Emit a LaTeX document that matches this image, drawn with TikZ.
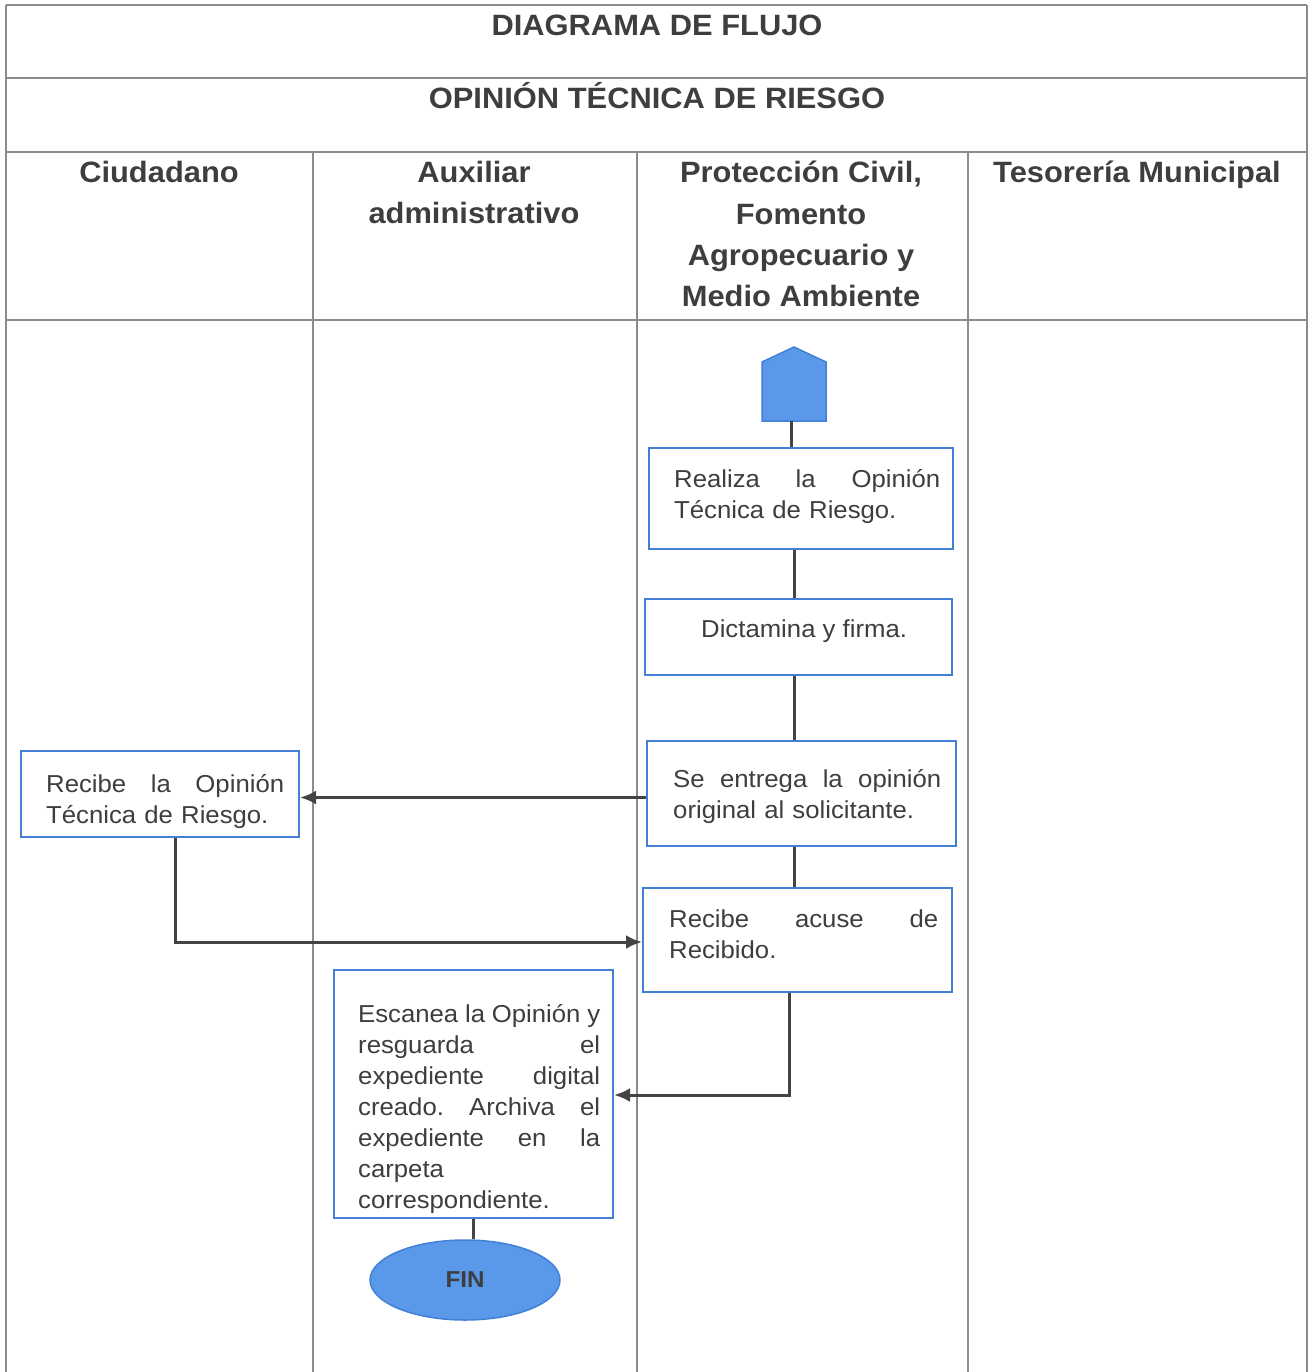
\documentclass[tikz,border=0pt]{standalone}
\usepackage{fontspec}
\setmainfont[FakeStretch=1.05]{Liberation Sans}
\usetikzlibrary{arrows.meta,shapes.geometric}

\definecolor{ink}{RGB}{62,62,62}
\definecolor{rulegray}{RGB}{140,140,140}
\definecolor{frameblue}{RGB}{66,128,214}
\definecolor{fillblue}{RGB}{90,152,234}
\definecolor{linkgray}{RGB}{68,68,68}

% a justified line of a given width: the words are spread over the full width
\newcommand{\spreadline}[2]{\noindent\hbox to #1{#2}\par}

\begin{document}
\begin{tikzpicture}[x=1pt,y=-1pt,
  gridline/.style={draw=rulegray,line width=1.2pt},
  title/.style={font=\fontsize{29.4}{34}\selectfont\bfseries,text=ink,inner sep=0pt,anchor=base},
  lane/.style={font=\fontsize{29.4}{41.3}\selectfont\bfseries,text=ink,align=center,anchor=north,inner sep=0pt},
  stepbox/.style={draw=frameblue,line width=2pt,fill=white,rectangle,inner sep=0pt},
  steptext/.style={text=ink,font=\fontsize{24.5}{31}\selectfont,inner sep=0pt,anchor=base west,align=left},
  link/.style={draw=linkgray,line width=3pt},
  arr/.style={link,-{Latex[length=16pt,width=14pt]}},
]
\useasboundingbox (0,0) rectangle (1309,1372);

% table frame and swimlanes
\draw[gridline] (6,5) -- (1307,5);
\draw[gridline] (6,78) -- (1307,78);
\draw[gridline] (6,152) -- (1307,152);
\draw[gridline] (6,320) -- (1307,320);
\draw[gridline] (6,5) -- (6,1372);
\draw[gridline] (1307,5) -- (1307,1372);
\foreach \x in {313,637,968} \draw[gridline] (\x,152) -- (\x,1372);

% titles
\node[title] (t1) at (657,35.5) {DIAGRAMA DE FLUJO};
\node[title] (t2) at (657,108.5) {OPINIÓN TÉCNICA DE RIESGO};

% lane headers
\node[lane] (h1) at (159,161) {Ciudadano};
\node[lane] (h2) at (474,161) {Auxiliar\\administrativo};
\node[lane] (h3) at (801,161) {Protección Civil,\\Fomento\\Agropecuario y\\Medio Ambiente};
\node[lane] (h4) at (1137,161) {Tesorería Municipal};

% start connector
\draw[draw=frameblue,fill=fillblue,line width=1.5pt]
  (762,362) -- (794,347) -- (826,362) -- (826,421) -- (762,421) -- cycle;
\coordinate (start) at (791,421);

% process boxes
\node[stepbox,minimum width=304pt,minimum height=101pt] (b1) at (801,498.5) {};
\node[stepbox,minimum width=307pt,minimum height=76pt] (b2) at (798.5,637) {};
\node[stepbox,minimum width=309pt,minimum height=105pt] (b3) at (801.5,793.5) {};
\node[stepbox,minimum width=309pt,minimum height=104pt] (b4) at (797.5,940) {};
\node[stepbox,minimum width=278pt,minimum height=86pt] (r1) at (160,794) {};
\node[stepbox,minimum width=279pt,minimum height=248pt] (e1) at (473.5,1094) {};

% box texts
\node[steptext,text width=266pt] (b1t) at (674,487)
  {\spreadline{266pt}{Realiza\hfill la\hfill Opinión}Técnica de Riesgo.};
\node[steptext] (b2t) at (701,637) {Dictamina y firma.};
\node[steptext,text width=268pt] (b3t) at (673,787)
  {\spreadline{268pt}{Se\hfill entrega\hfill la\hfill opinión}original al solicitante.};
\node[steptext,text width=269pt] (b4t) at (669,927)
  {\spreadline{269pt}{Recibe\hfill acuse\hfill de}Recibido.};
\node[steptext,text width=238pt] (r1t) at (46,792)
  {\spreadline{238pt}{Recibe\hfill la\hfill Opinión}Técnica de Riesgo.};
\node[steptext,text width=242pt] (e1t) at (358,1022)
  {\spreadline{242pt}{Escanea\hfill la\hfill Opinión\hfill y}%
   \spreadline{242pt}{resguarda\hfill el}%
   \spreadline{242pt}{expediente\hfill digital}%
   \spreadline{242pt}{creado.\hfill Archiva\hfill el}%
   \spreadline{242pt}{expediente\hfill en\hfill la}%
   carpeta\\correspondiente.};

% end terminal
\node[ellipse,draw=frameblue,fill=fillblue,line width=1.5pt,minimum width=190pt,minimum height=80pt,
  inner sep=0pt,text=ink,font=\fontsize{23}{23}\selectfont\bfseries] (fin) at (465,1280) {FIN};

% connectors
\coordinate (spine) at (794,0);
\coordinate (drop) at (175,0);
\coordinate (fall) at (789,0);
\draw[link] (start) -- (start |- b1.north);
\draw[link] (b1.south -| spine) -- (b2.north -| spine);
\draw[link] (b2.south -| spine) -- (b3.north -| spine);
\draw[link] (b3.south -| spine) -- (b4.north -| spine);
\draw[arr] ([yshift=-4pt]b3.west) -- ([yshift=-4pt]b3.west -| r1.east);
\draw[arr] (r1.south -| drop) |- ([yshift=-2pt]b4.west);
\draw[arr] (b4.south -| fall) |- ([yshift=-1pt]e1.east);
\draw[link] (e1.south) -- (e1.south |- fin.north);
\end{tikzpicture}
\end{document}
